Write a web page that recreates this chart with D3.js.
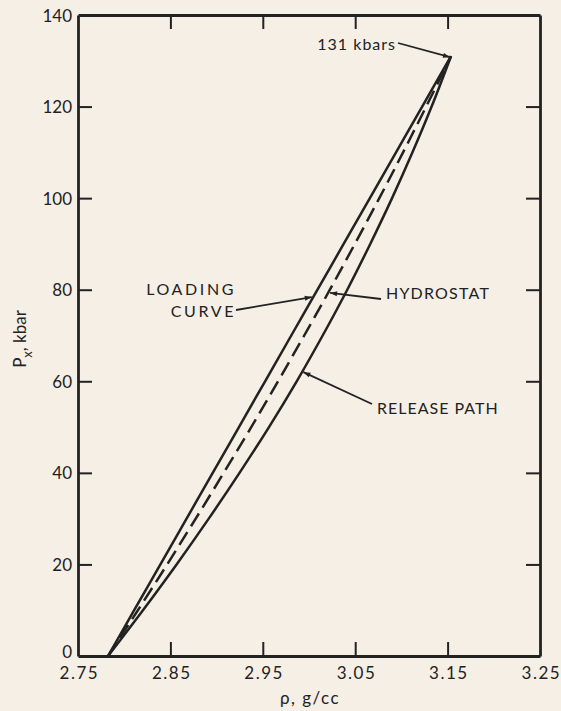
<!DOCTYPE html>
<html>
<head>
<meta charset="utf-8">
<script src="https://cdn.jsdelivr.net/npm/d3@7"></script>
<style>
  html, body { margin: 0; padding: 0; background: #f5efe6; }
  svg { display: block; }
  text { font-family: Lato, "DejaVu Sans", sans-serif; fill: #222; }
</style>
</head>
<body>
<svg id="chart" width="561" height="711"></svg>
<script>
// Shock loading / release of the sample: pressure P_x (kbar) vs density rho (g/cc)
const xTicks = [2.75, 2.85, 2.95, 3.05, 3.15, 3.25];
const yTicks = [0, 20, 40, 60, 80, 100, 120, 140];

const pressures = [0, 10, 20, 30, 40, 50, 60, 70, 80, 90, 100, 110, 120, 131];
const loadingRho   = [2.7825, 2.8108, 2.8392, 2.8675, 2.8958, 2.9242, 2.9525, 2.9808, 3.0092, 3.0375, 3.0659, 3.0942, 3.1225, 3.1537];
const hydrostatRho = [2.7825, 2.8148, 2.8465, 2.8774, 2.9077, 2.9375, 2.9665, 2.9948, 3.0226, 3.0496, 3.0761, 3.1018, 3.1268, 3.1537];
const releaseRho   = [2.7825, 2.8203, 2.8567, 2.8915, 2.9248, 2.9567, 2.9867, 3.0148, 3.0414, 3.0663, 3.0899, 3.1120, 3.1327, 3.1537];

const peakP = 131, peakRho = 3.1537;

const svg = d3.select("#chart");
const ink = "#222";
const plotL = 78, plotR = 540, plotT = 15, plotB = 656;

const x = d3.scaleLinear().domain([2.75, 3.25]).range([plotL, plotR]);
const y = d3.scaleLinear().domain([0, 140]).range([plotB, plotT]);

// density on a curve at a given pressure (linear between listed points)
function rhoAt(rhos, p) {
  const i = Math.min(d3.bisectRight(pressures, p), pressures.length - 1);
  const t = (p - pressures[i - 1]) / (pressures[i] - pressures[i - 1]);
  return rhos[i - 1] + t * (rhos[i] - rhos[i - 1]);
}

const defs = svg.append("defs");
defs.append("marker").attr("id", "arrow")
  .attr("viewBox", "0 0 10 10").attr("refX", 10).attr("refY", 5)
  .attr("markerWidth", 13).attr("markerHeight", 7).attr("markerUnits", "userSpaceOnUse")
  .attr("orient", "auto")
  .append("path").attr("d", "M0,1.5 L10,5 L0,8.5 Z").attr("fill", ink);

// inward ticks on all four sides
const tickLen = 14;
const gBottom = svg.append("g").attr("transform", `translate(0,${plotB})`)
  .call(d3.axisBottom(x).tickValues(xTicks).tickSizeInner(-tickLen).tickSizeOuter(0)
    .tickFormat(d3.format(".2f")));
const gTop = svg.append("g").attr("transform", `translate(0,${plotT})`)
  .call(d3.axisTop(x).tickValues(xTicks.slice(1, -1)).tickSizeInner(-tickLen).tickSizeOuter(0).tickFormat(""));
const gLeft = svg.append("g").attr("transform", `translate(${plotL},0)`)
  .call(d3.axisLeft(y).tickValues(yTicks).tickSizeInner(-tickLen).tickSizeOuter(0));
const gRight = svg.append("g").attr("transform", `translate(${plotR},0)`)
  .call(d3.axisRight(y).tickValues(yTicks.slice(1, -1)).tickSizeInner(-tickLen).tickSizeOuter(0).tickFormat(""));

[gBottom, gTop, gLeft, gRight].forEach(g => {
  g.attr("font-family", null).attr("font-size", null);
  g.select(".domain").attr("stroke", ink).attr("stroke-width", 2.8);
  g.selectAll(".tick line").attr("stroke", ink).attr("stroke-width", 2);
});
gLeft.selectAll(".tick").filter(d => d === 0 || d === 140).select("line").remove();
gBottom.selectAll(".tick").filter(d => d === 2.75 || d === 3.25).select("line").remove();

gLeft.selectAll(".tick text")
  .attr("x", -6).attr("dy", d => d === 0 ? "0.08em" : "0.36em").style("font-size", "17px").attr("fill", ink);
gBottom.selectAll(".tick text")
  .style("font-size", "17px").attr("letter-spacing", 1.5).attr("fill", ink)
  .attr("y", 23).attr("dy", null).attr("dx", 0.8);

// curves
const line = d3.line().x(d => x(d[1])).y(d => y(d[0])).curve(d3.curveCatmullRom.alpha(0.5));
const zip = rs => pressures.map((p, i) => [p, rs[i]]);

svg.append("path").datum(zip(loadingRho)).attr("d", line)
  .attr("fill", "none").attr("stroke", ink).attr("stroke-width", 2.5);
svg.append("path").datum(zip(releaseRho)).attr("d", line)
  .attr("fill", "none").attr("stroke", ink).attr("stroke-width", 2.5);
svg.append("path").datum(zip(hydrostatRho)).attr("d", line)
  .attr("fill", "none").attr("stroke", ink).attr("stroke-width", 2.5)
  .attr("stroke-dasharray", "15,7");

// annotations
function note(lines, tx, ty, anchor, spacing, from, to) {
  const t = svg.append("text").style("font-size", "16px").attr("letter-spacing", spacing)
    .attr("text-anchor", anchor);
  lines.forEach((s, i) => t.append("tspan").attr("x", tx[i]).attr("y", ty[i]).text(s));
  svg.append("line").attr("x1", from[0]).attr("y1", from[1]).attr("x2", to[0]).attr("y2", to[1])
    .attr("stroke", ink).attr("stroke-width", 1.8).attr("marker-end", "url(#arrow)");
}
note(["131 kbars"], [396], [50], "end", 1, [398, 43], [x(peakRho) - 1, y(peakP) + 1]);
note(["LOADING", "CURVE"], [236, 236], [295, 317], "end", 2.6,
  [236, 310], [x(rhoAt(loadingRho, 78.4)) - 1.5, y(78.4)]);
note(["HYDROSTAT"], [386], [299], "start", 1.2,
  [381, 299], [x(rhoAt(hydrostatRho, 79.3)) + 2, y(79.3)]);
note(["RELEASE PATH"], [377], [414], "start", 1,
  [372, 404], [x(rhoAt(releaseRho, 62)) + 1.5, y(62)]);

// axis titles
const yl = svg.append("text").attr("transform", "translate(26,339) rotate(-90)")
  .attr("text-anchor", "middle").style("font-size", "17px");
yl.append("tspan").text("P");
yl.append("tspan").style("font-size", "13px").attr("dy", 6).text("x");
yl.append("tspan").attr("dy", -6).text(", kbar");

svg.append("text").attr("x", 310).attr("y", 704).attr("text-anchor", "middle")
  .style("font-size", "17px").attr("letter-spacing", 1.5).text("ρ, g/cc");
</script>
</body>
</html>
